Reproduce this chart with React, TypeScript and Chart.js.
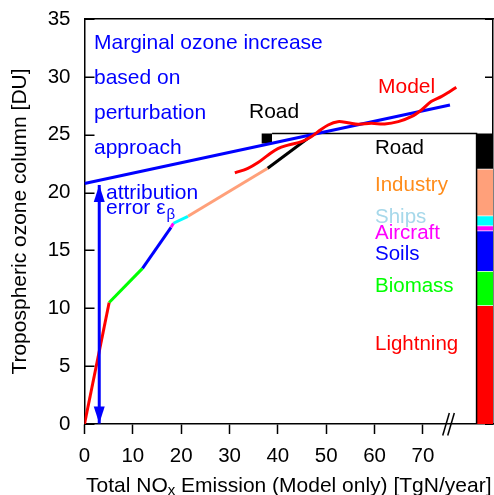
import React, { useEffect, useRef } from 'react';
import { Chart, registerables } from 'chart.js';

Chart.register(...registerables);

const FONT = '"Liberation Sans", Arial, Helvetica, sans-serif';
const BLUE = '#0000ff';

// Sectors (bottom to top of the stacked bar / order along the cumulative curve)
const sectors = ['Lightning', 'Biomass', 'Soils', 'Aircraft', 'Ships', 'Industry', 'Road'];
const sectorColors = ['#ff0000', '#00ff00', '#0000ff', '#ff00ff', '#00ffff', '#ffa07a', '#000000'];
const sectorTextColors = ['#ff0000', '#00ff00', '#0000ff', '#ff00ff', '#a6d8ea', '#ff8c1a', '#000000'];

// Cumulative curve: total NOx emission [TgN/yr] vs ozone column [DU] at each sector boundary
const cumEmission = [0, 5.1, 12.0, 17.9, 18.4, 21.4, 37.9, 47.2];
const cumOzone = [0, 10.5, 13.45, 17.0, 17.35, 17.95, 22.1, 25.0];

// Stacked bar: ozone contribution of each sector [DU]
const barContrib = [10.2, 2.95, 3.5, 0.45, 0.85, 4.05, 3.1];

// Model curve
const modelX = [31.1, 33.8, 35.9, 38.0, 40.0, 42.1, 44.9, 46.9, 48.3, 50.4, 52.4, 54.5, 56.6, 59.3, 62.1, 64.9, 67.6, 69.7, 71.7, 73.8, 75.5, 76.9];
const modelY = [21.7, 22.1, 22.6, 23.25, 23.8, 24.1, 24.4, 24.83, 25.26, 25.84, 26.13, 26.04, 25.9, 25.98, 25.93, 26.13, 26.56, 27.14, 27.86, 28.29, 28.72, 29.1];

// Marginal ozone increase (perturbation approach)
const marginalX = [0, 75.6];
const marginalY = [20.78, 27.57];

// Attribution error arrow
const arrowX = [3.05, 3.05];
const arrowY = [0.05, 20.65];

// Road marker and inset box
const roadMarkX = [36.6, 38.8];
const roadMarkY = [24.25, 25.1];
const boxX = [38.8, 81.1, 81.1];
const boxY = [25.1, 25.1, 0];
const barX = [81.1, 84.5];

const xTicks = [0, 10, 20, 30, 40, 50, 60, 70];
const X_MAX = 84.5;
const Y_MAX = 35;

const pts = (xs: number[], ys: number[]) => xs.map((x, i) => ({ x, y: ys[i] }));

const notes = [
  { text: 'Marginal ozone increase', x: 94, y: 49, color: BLUE },
  { text: 'based on', x: 94, y: 84, color: BLUE },
  { text: 'perturbation', x: 94, y: 119, color: BLUE },
  { text: 'approach', x: 94, y: 154, color: BLUE },
  { text: 'attribution', x: 106, y: 199, color: BLUE },
  { text: 'Model', x: 378, y: 93, color: '#ff0000' },
  { text: 'Road', x: 249, y: 118, color: '#000000' },
];
const sectorLabelY = [350, 291.5, 259.5, 239, 223, 190.5, 153.5];

const zeroPad = (s: any) => {
  s.paddingTop = 0;
  s.paddingBottom = 0;
  s.paddingLeft = 0;
  s.paddingRight = 0;
};

const textPlugin = {
  id: 'texts',
  beforeDatasetsDraw(chart: any) {
    const ctx = chart.ctx;
    const ys = chart.scales.y;
    const { left, right } = chart.chartArea;
    ctx.save();
    ctx.strokeStyle = '#000';
    ctx.lineWidth = 1.5;
    ys.ticks.forEach((t: any) => {
      const py = Math.round(ys.getPixelForValue(t.value)) + 0.25;
      ctx.beginPath();
      ctx.moveTo(left, py);
      ctx.lineTo(left + 10, py);
      ctx.moveTo(right, py);
      ctx.lineTo(right - 8, py);
      ctx.stroke();
    });
    ctx.restore();
  },
  afterDatasetsDraw(chart: any) {
    const ctx = chart.ctx;
    // arrow heads
    const meta = chart.getDatasetMeta(0);
    if (meta && meta.data.length === 2) {
      const p0 = meta.data[0];
      const p1 = meta.data[1];
      const head = (x: number, y: number, dir: number) => {
        ctx.beginPath();
        ctx.moveTo(x, y);
        ctx.lineTo(x - 5.5, y + dir * 17);
        ctx.lineTo(x + 5.5, y + dir * 17);
        ctx.closePath();
        ctx.fillStyle = BLUE;
        ctx.fill();
      };
      head(p0.x, p0.y, -1);
      head(p1.x, p1.y, 1);
    }
  },
  afterDraw(chart: any) {
    const ctx = chart.ctx;
    ctx.save();
    ctx.textBaseline = 'alphabetic';
    ctx.textAlign = 'left';
    ctx.font = `21px ${FONT}`;
    notes.forEach((n) => {
      ctx.fillStyle = n.color;
      ctx.fillText(n.text, n.x, n.y);
    });
    // error ε_β
    ctx.fillStyle = BLUE;
    ctx.fillText('error ε', 106, 214);
    const w = ctx.measureText('error ε').width;
    ctx.font = `15px ${FONT}`;
    ctx.fillText('β', 106 + w + 1, 219);
    // sector labels
    ctx.font = `20.5px ${FONT}`;
    sectors.forEach((s, i) => {
      ctx.fillStyle = sectorTextColors[i];
      ctx.fillText(s, 375, sectorLabelY[i]);
    });
    // x axis title with subscript
    const a = 'Total NO';
    const sub = 'x';
    const b = ' Emission (Model only) [TgN/year]';
    ctx.font = `21px ${FONT}`;
    const wa = ctx.measureText(a).width;
    const wb = ctx.measureText(b).width;
    ctx.font = `15px ${FONT}`;
    const ws = ctx.measureText(sub).width;
    const total = wa + ws + wb;
    const cx = (chart.chartArea.left + chart.chartArea.right) / 2;
    const x0 = cx - total / 2;
    ctx.fillStyle = '#000';
    ctx.font = `21px ${FONT}`;
    ctx.fillText(a, x0, 491.5);
    ctx.font = `15px ${FONT}`;
    ctx.fillText(sub, x0 + wa, 495);
    ctx.font = `21px ${FONT}`;
    ctx.fillText(b, x0 + wa + ws, 491.5);
    // axis break marks
    const xs = chart.scales.x;
    const bx = xs.getPixelForValue(75.3);
    const by = chart.chartArea.bottom;
    ctx.strokeStyle = '#000';
    ctx.lineWidth = 1.5;
    [-2.5, 2.5].forEach((d) => {
      ctx.beginPath();
      ctx.moveTo(bx + d - 3.3, by + 11.5);
      ctx.lineTo(bx + d + 3.3, by - 11);
      ctx.stroke();
    });
    ctx.restore();
  },
};

export default function App() {
  const ref = useRef<HTMLCanvasElement>(null);
  useEffect(() => {
    const canvas = ref.current;
    if (!canvas) return;
    Chart.defaults.font.family = FONT;

    const datasets: any[] = [];
    // 0: arrow
    datasets.push({
      label: 'arrow',
      data: pts(arrowX, arrowY),
      borderColor: BLUE,
      borderWidth: 3,
      pointRadius: 0,
      fill: false,
    });
    // model
    datasets.push({
      label: 'Model',
      data: pts(modelX, modelY),
      borderColor: '#ff0000',
      borderWidth: 3,
      pointRadius: 0,
      tension: 0.35,
      fill: false,
    });
    // marginal
    datasets.push({
      label: 'marginal',
      data: pts(marginalX, marginalY),
      borderColor: BLUE,
      borderWidth: 3,
      pointRadius: 0,
      fill: false,
    });
    // cumulative
    datasets.push({
      label: 'cumulative',
      data: pts(cumEmission, cumOzone),
      borderColor: '#000',
      borderWidth: 3,
      pointRadius: 0,
      fill: false,
      segment: {
        borderColor: (c: any) => sectorColors[c.p0DataIndex],
      },
    });
    // road mark
    datasets.push({
      label: 'roadmark',
      data: [{ x: roadMarkX[0], y: roadMarkY[0] }, { x: roadMarkX[1], y: roadMarkY[0] }],
      borderWidth: 0,
      borderColor: '#000',
      backgroundColor: '#000',
      pointRadius: 0,
      fill: { value: roadMarkY[1] },
    });
    // inset box
    datasets.push({
      label: 'box',
      data: pts(boxX, boxY),
      borderColor: '#000',
      borderWidth: 1.5,
      pointRadius: 0,
      fill: false,
    });
    // stacked bar
    let lo = 0;
    barContrib.forEach((v, i) => {
      const hi = lo + v;
      datasets.push({
        label: sectors[i],
        data: [{ x: barX[0], y: lo }, { x: barX[1], y: lo }],
        borderColor: '#ffffff',
        borderWidth: i === 0 ? 0 : 1.5,
        backgroundColor: sectorColors[i],
        pointRadius: 0,
        fill: { value: hi },
      });
      lo = hi;
    });

    const chart = new Chart(canvas, {
      type: 'line',
      data: { datasets },
      options: {
        animation: false,
        responsive: true,
        maintainAspectRatio: false,
        layout: { padding: 0 },
        plugins: { legend: { display: false }, tooltip: { enabled: false } },
        scales: {
          x: {
            type: 'linear',
            position: 'bottom',
            min: 0,
            max: X_MAX,
            afterBuildTicks: (s: any) => {
              s.ticks = xTicks.map((v) => ({ value: v }));
            },
            ticks: {
              font: { size: 20.5, family: FONT },
              color: '#000',
              padding: 10,
              maxRotation: 0,
              autoSkip: false,
            },
            grid: {
              drawOnChartArea: false,
              drawTicks: true,
              tickLength: 10,
              tickWidth: 1.5,
              tickColor: '#000',
            },
            border: { display: true, color: '#000', width: 1.5 },
            afterFit: (s: any) => {
              s.height = 71;
              zeroPad(s);
            },
          },
          x2: {
            type: 'linear',
            axis: 'x',
            position: 'top',
            min: 0,
            max: X_MAX,
            ticks: { display: false },
            grid: { drawOnChartArea: false, drawTicks: false },
            border: { display: true, color: '#000', width: 1.5 },
            afterFit: (s: any) => {
              s.height = 19;
              zeroPad(s);
            },
          },
          y: {
            type: 'linear',
            position: 'left',
            min: 0,
            max: Y_MAX,
            ticks: {
              stepSize: 5,
              font: { size: 20.5, family: FONT },
              color: '#000',
              padding: 14,
            },
            grid: {
              drawOnChartArea: false,
              drawTicks: false,
            },
            border: { display: true, color: '#000', width: 1.5 },
            title: {
              display: true,
              text: 'Tropospheric ozone column [DU]',
              color: '#000',
              font: { size: 21, family: FONT, lineHeight: 1 },
              padding: { top: 10, bottom: 0 },
            },
            afterFit: (s: any) => {
              s.width = 84.5;
              zeroPad(s);
            },
          },
          y2: {
            type: 'linear',
            axis: 'y',
            position: 'right',
            min: 0,
            max: Y_MAX,
            ticks: { display: false, stepSize: 5 },
            grid: { drawOnChartArea: false, drawTicks: false },
            border: { display: true, color: '#000', width: 1.5 },
            afterFit: (s: any) => {
              s.width = 1;
              zeroPad(s);
            },
          },
        },
      } as any,
      plugins: [textPlugin],
    });
    return () => chart.destroy();
  }, []);

  return (
    <div
      style={{
        position: 'fixed',
        left: 0,
        top: 0,
        width: 494,
        height: 495,
        background: '#fff',
        overflow: 'hidden',
      }}
    >
      <canvas ref={ref} />
    </div>
  );
}
